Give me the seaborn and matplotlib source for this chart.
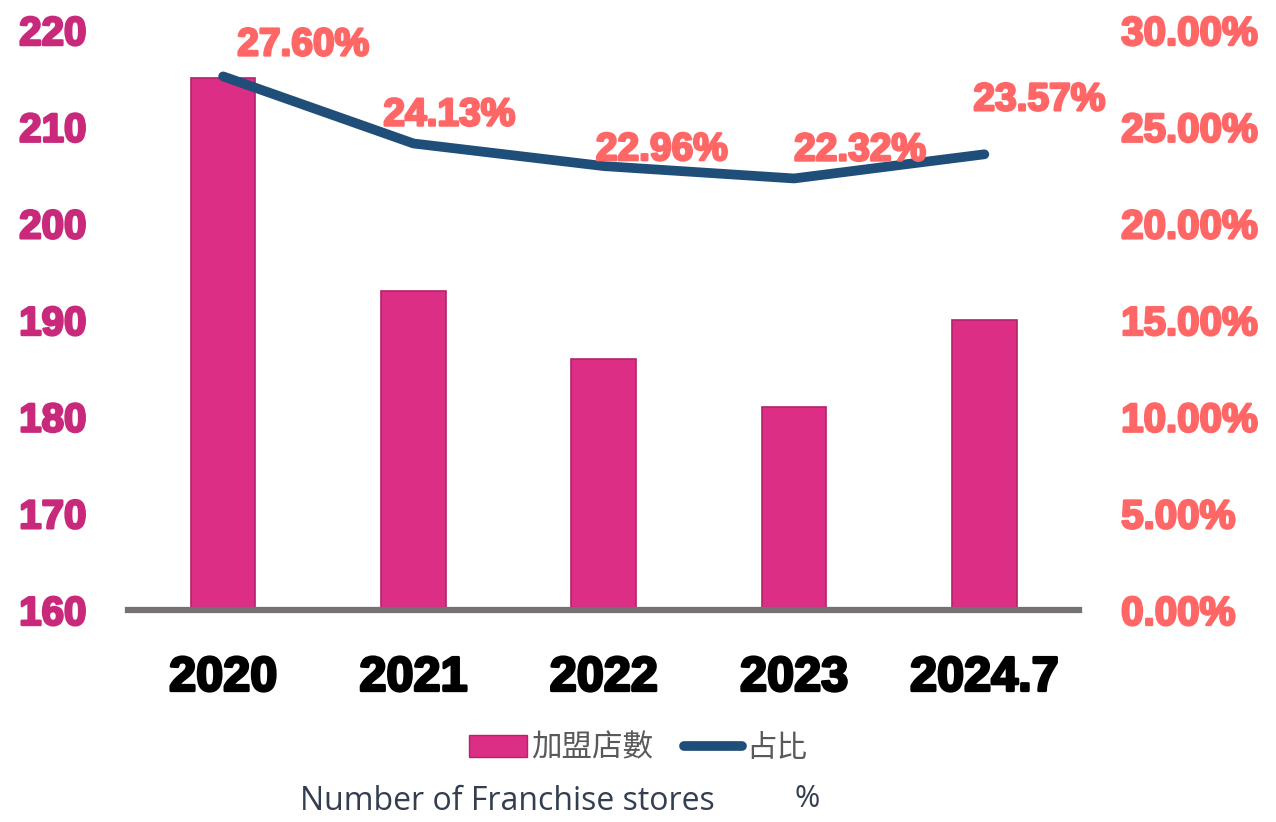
import matplotlib
matplotlib.use("Agg")
import matplotlib.pyplot as plt
import matplotlib.patheffects as pe
from matplotlib.patches import Patch
from matplotlib.lines import Line2D
from matplotlib.ticker import FuncFormatter
import numpy as np
import seaborn as sns

years = ['2020', '2021', '2022', '2023', '2024.7']
stores = [215, 193, 186, 181, 190]
share = [27.60, 24.13, 22.96, 22.32, 23.57]
label_offsets = [(80, -31), (36, -28), (58, -16), (66, -28), (55, -54)]

sns.set_style('white')
plt.rcParams['font.family'] = ['Liberation Sans', 'Noto Sans CJK TC', 'DejaVu Sans']

pink = '#DB2E84'
navy = '#1F4E79'
salmon = '#FF6666'
magenta = '#C8297A'


def heavy(color, w=1.6):
    return [pe.withStroke(linewidth=w, foreground=color)]


fig = plt.figure(figsize=(12.76, 8.22), dpi=100)
ax = fig.add_axes([0.1003, 0.258, 0.7457, 0.7055])

sns.barplot(x=years, y=stores, color=pink, width=0.34, saturation=1,
            edgecolor='#B4236B', linewidth=1.2, ax=ax)
ax.set_ylim(160, 220)
ax.set_xlim(-0.5, 4.5)
ax.set_yticks(range(160, 221, 10))
ax.tick_params(axis='y', length=0, labelsize=29, labelcolor=magenta, pad=30)
ax.tick_params(axis='x', length=0, labelsize=35, labelcolor='black', pad=33)
for t in ax.get_yticklabels():
    t.set_fontweight('bold')
    t.set_path_effects(heavy(magenta, 1.8))
for t in ax.get_xticklabels():
    t.set_fontweight('bold')
    t.set_path_effects(heavy('black', 2))
ax.set_xlabel('')
ax.set_ylabel('')
for s in ['top', 'right', 'left']:
    ax.spines[s].set_visible(False)
ax.spines['bottom'].set_color('#767171')
ax.spines['bottom'].set_linewidth(4.5)

ax2 = ax.twinx()
sns.lineplot(x=np.arange(len(years)), y=[v / 100 for v in share], color=navy,
             linewidth=7, ax=ax2, solid_capstyle='round')
ax2.set_ylim(0, 0.30)
ax2.set_yticks(np.arange(0, 0.301, 0.05))
ax2.yaxis.set_major_formatter(FuncFormatter(lambda v, p: f'{v * 100:.2f}%'))
ax2.tick_params(axis='y', length=0, labelsize=29, labelcolor=salmon, pad=30)
for t in ax2.get_yticklabels():
    t.set_fontweight('bold')
    t.set_path_effects(heavy(salmon, 1.8))
ax2.set_ylabel('')
for s in ['top', 'right', 'left', 'bottom']:
    ax2.spines[s].set_visible(False)

for i, (v, off) in enumerate(zip(share, label_offsets)):
    ax2.annotate(f'{v:.2f}%', (i, v / 100), xytext=(off[0] * 0.72, -off[1] * 0.72),
                 textcoords='offset points', ha='center', va='center',
                 fontsize=28, fontweight='bold', color=salmon,
                 path_effects=heavy(salmon, 1.8))

handles = [Patch(facecolor=pink, edgecolor='#B4236B'),
           Line2D([0], [0], color=navy, linewidth=7, solid_capstyle='round')]
leg = fig.legend(handles, ['加盟店數', '占比'], loc='center', bbox_to_anchor=(0.5, 0.09),
                 ncol=2, frameon=False, handlelength=1.9, handletextpad=0.15,
                 columnspacing=1.0, prop={'family': 'Noto Sans CJK TC', 'size': 22})
for t in leg.get_texts():
    t.set_color('#595959')

fig.text(0.235, 0.005, 'Number of Franchise stores', fontsize=23, color='#333F50',
         family='Open Sans', ha='left', va='bottom')
fig.text(0.623, 0.028, '%', fontsize=22, color='#333F50',
         family='Open Sans', ha='left', va='center')

fig.savefig('out.png', dpi=100, facecolor='white')
